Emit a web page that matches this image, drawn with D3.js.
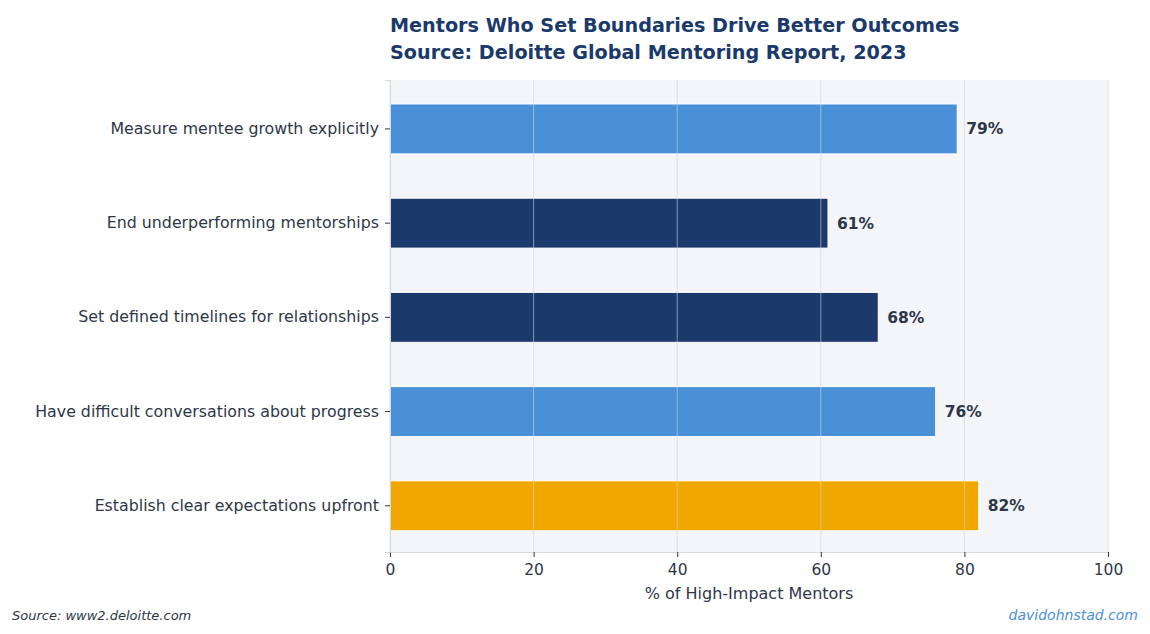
<!DOCTYPE html>
<html>
<head>
<meta charset="utf-8">
<script src="https://cdn.jsdelivr.net/npm/d3@7"></script>
<style>
  body { margin: 0; background: #ffffff; }
  text { font-family: "DejaVu Sans", sans-serif; }
</style>
</head>
<body>
<div id="chart"></div>
<script>
// Chart data, top to bottom.
const categories = [
  'Measure mentee growth explicitly',
  'End underperforming mentorships',
  'Set defined timelines for relationships',
  'Have difficult conversations about progress',
  'Establish clear expectations upfront'
];
const values = [79, 61, 68, 76, 82];
const barColors = ['#4a90d9', '#1b3a6b', '#1b3a6b', '#4a90d9', '#f0a800'];
const xTicks = [0, 20, 40, 60, 80, 100];

const titleLines = [
  'Mentors Who Set Boundaries Drive Better Outcomes',
  'Source: Deloitte Global Mentoring Report, 2023'
];

// Layout.
const size = {width: 1150, height: 634};
const plot = {left: 390, right: 1108, top: 80, bottom: 552};

const svg = d3.select('#chart')
  .append('svg')
  .attr('width', size.width)
  .attr('height', size.height);

const x = d3.scaleLinear()
  .domain([0, 100])
  .range([plot.left, plot.right]);

const y = d3.scaleBand()
  .domain(categories)
  .range([plot.top, plot.bottom])
  .paddingInner(0.47)
  .paddingOuter(0.24)
  .align(0.53);

// Plot background.
svg.append('rect')
  .attr('x', plot.left)
  .attr('y', plot.top)
  .attr('width', plot.right - plot.left)
  .attr('height', plot.bottom - plot.top)
  .style('fill', '#f4f5f9');

// Bars.
svg.append('g')
  .selectAll('rect')
  .data(categories)
  .enter()
  .append('rect')
  .attr('x', x(0))
  .attr('y', (d) => y(d))
  .attr('width', (d, i) => x(values[i]) - x(0))
  .attr('height', y.bandwidth())
  .style('fill', (d, i) => barColors[i])
  .style('stroke', '#ffffff')
  .style('stroke-width', 1);

// Grid lines (drawn above bars, like the original).
svg.append('g')
  .selectAll('line')
  .data(xTicks)
  .enter()
  .append('line')
  .attr('x1', (d) => x(d))
  .attr('x2', (d) => x(d))
  .attr('y1', plot.top)
  .attr('y2', plot.bottom)
  .style('stroke', '#d0d4dc')
  .style('stroke-opacity', 0.6)
  .style('stroke-width', 1);

// Value labels.
svg.append('g')
  .selectAll('text')
  .data(categories)
  .enter()
  .append('text')
  .attr('x', (d, i) => x(values[i]) + 9)
  .attr('y', (d) => y(d) + y.bandwidth() / 2)
  .attr('dy', '0.35em')
  .style('font-size', '15.5px')
  .style('font-weight', 'bold')
  .style('fill', '#2d3748')
  .text((d, i) => values[i] + '%');

// Axes.
const xAxis = d3.axisBottom(x)
  .tickValues(xTicks)
  .tickSize(5)
  .tickPadding(7);

const gx = svg.append('g')
  .attr('transform', 'translate(0,' + plot.bottom + ')')
  .call(xAxis);
gx.select('.domain').style('stroke', '#d5d9df');
gx.selectAll('.tick line').style('stroke', '#2d3748');
gx.selectAll('.tick text')
  .style('font-family', '"DejaVu Sans", sans-serif')
  .style('font-size', '15.5px')
  .style('fill', '#2d3748');

const yAxis = d3.axisLeft(y)
  .tickSize(5)
  .tickPadding(6);

const gy = svg.append('g')
  .attr('transform', 'translate(' + plot.left + ',0)')
  .call(yAxis);
gy.select('.domain').style('stroke', '#d5d9df');
gy.selectAll('.tick line').style('stroke', '#2d3748');
gy.selectAll('.tick text')
  .style('font-family', '"DejaVu Sans", sans-serif')
  .style('font-size', '15.8px')
  .style('fill', '#2d3748');

// Axis title.
svg.append('text')
  .attr('x', (plot.left + plot.right) / 2)
  .attr('y', 599)
  .attr('text-anchor', 'middle')
  .style('font-size', '16px')
  .style('fill', '#2d3748')
  .text('% of High-Impact Mentors');

// Title.
svg.append('g')
  .selectAll('text')
  .data(titleLines)
  .enter()
  .append('text')
  .attr('x', plot.left)
  .attr('y', (d, i) => 32 + i * 27)
  .style('font-size', '19.2px')
  .style('font-weight', 'bold')
  .style('fill', '#1b3a6b')
  .text((d) => d);

// Footer.
svg.append('text')
  .attr('x', 12)
  .attr('y', 620)
  .style('font-size', '13px')
  .style('font-style', 'italic')
  .style('fill', '#2d3748')
  .text('Source: www2.deloitte.com');

svg.append('text')
  .attr('x', 1138)
  .attr('y', 620)
  .attr('text-anchor', 'end')
  .style('font-size', '14px')
  .style('font-style', 'italic')
  .style('fill', '#4a90d9')
  .text('davidohnstad.com');
</script>
</body>
</html>
